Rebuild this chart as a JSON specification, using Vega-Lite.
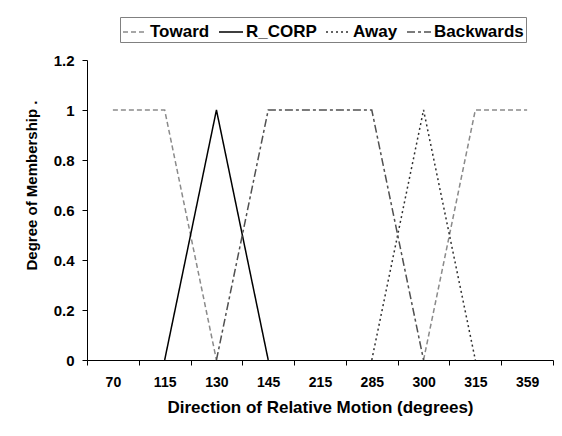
{
  "$schema": "https://vega.github.io/schema/vega-lite/v6.json",
  "width": 466,
  "height": 300,
  "autosize": {"type": "none"},
  "padding": {"left": 87, "top": 60, "right": 9, "bottom": 76},
  "background": "white",
  "config": {
    "view": {"stroke": null},
    "font": "Liberation Sans",
    "axis": {"grid": false, "domainColor": "black", "tickColor": "black", "labelColor": "black", "titleColor": "black", "labelFontWeight": "bold", "titleFontWeight": "bold", "zindex": 1}
  },
  "data": {
    "values": [
      {"deg": "70", "series": "Toward", "m": 1},
      {"deg": "115", "series": "Toward", "m": 1},
      {"deg": "130", "series": "Toward", "m": 0},
      {"deg": "145", "series": "Toward", "m": null},
      {"deg": "215", "series": "Toward", "m": null},
      {"deg": "285", "series": "Toward", "m": null},
      {"deg": "300", "series": "Toward", "m": 0},
      {"deg": "315", "series": "Toward", "m": 1},
      {"deg": "359", "series": "Toward", "m": 1},
      {"deg": "70", "series": "R_CORP", "m": null},
      {"deg": "115", "series": "R_CORP", "m": 0},
      {"deg": "130", "series": "R_CORP", "m": 1},
      {"deg": "145", "series": "R_CORP", "m": 0},
      {"deg": "215", "series": "R_CORP", "m": null},
      {"deg": "285", "series": "R_CORP", "m": null},
      {"deg": "300", "series": "R_CORP", "m": null},
      {"deg": "315", "series": "R_CORP", "m": null},
      {"deg": "359", "series": "R_CORP", "m": null},
      {"deg": "70", "series": "Away", "m": null},
      {"deg": "115", "series": "Away", "m": null},
      {"deg": "130", "series": "Away", "m": null},
      {"deg": "145", "series": "Away", "m": null},
      {"deg": "215", "series": "Away", "m": null},
      {"deg": "285", "series": "Away", "m": 0},
      {"deg": "300", "series": "Away", "m": 1},
      {"deg": "315", "series": "Away", "m": 0},
      {"deg": "359", "series": "Away", "m": null},
      {"deg": "70", "series": "Backwards", "m": null},
      {"deg": "115", "series": "Backwards", "m": null},
      {"deg": "130", "series": "Backwards", "m": 0},
      {"deg": "145", "series": "Backwards", "m": 1},
      {"deg": "215", "series": "Backwards", "m": 1},
      {"deg": "285", "series": "Backwards", "m": 1},
      {"deg": "300", "series": "Backwards", "m": 0},
      {"deg": "315", "series": "Backwards", "m": null},
      {"deg": "359", "series": "Backwards", "m": null}
    ]
  },
  "mark": {"type": "line", "strokeWidth": 1.5, "invalid": "break-paths-show-domains"},
  "encoding": {
    "x": {
      "field": "deg", "type": "ordinal", "bandPosition": 0.5,
      "sort": ["70", "115", "130", "145", "215", "285", "300", "315", "359"],
      "scale": {"type": "band", "paddingInner": 0, "paddingOuter": 0},
      "axis": {"title": "Direction of Relative Motion (degrees)", "labelAngle": 0, "tickBand": "extent", "tickSize": 5, "labelPadding": 10, "labelFontSize": 14, "titleFontSize": 17, "titlePadding": 10}
    },
    "y": {
      "field": "m", "type": "quantitative",
      "scale": {"domain": [0, 1.2]},
      "axis": {"title": "Degree of Membership .", "values": [0, 0.2, 0.4, 0.6, 0.8, 1, 1.2], "format": "~f", "tickSize": 5, "labelPadding": 8, "labelFontSize": 15, "titleFontSize": 15, "titlePadding": 14, "titleY": 125}
    },
    "color": {
      "field": "series", "type": "nominal",
      "scale": {"domain": ["Toward", "R_CORP", "Away", "Backwards"], "range": ["#8a8a8a", "#000000", "#303030", "#505050"]},
      "legend": {"title": null, "orient": "none", "legendX": 33, "legendY": -43, "direction": "horizontal", "symbolType": "stroke", "symbolSize": 576, "symbolStrokeWidth": 1.5, "labelFontSize": 17, "labelFontWeight": "bold", "labelColor": "black", "labelOffset": 2, "columnPadding": 6, "padding": 2, "strokeColor": "#808080", "fillColor": "white"}
    },
    "strokeDash": {
      "field": "series", "type": "nominal",
      "scale": {"domain": ["Toward", "R_CORP", "Away", "Backwards"], "range": [[5, 3], [1, 0], [2, 3], [8, 3, 3, 3]]},
      "legend": null
    }
  }
}
